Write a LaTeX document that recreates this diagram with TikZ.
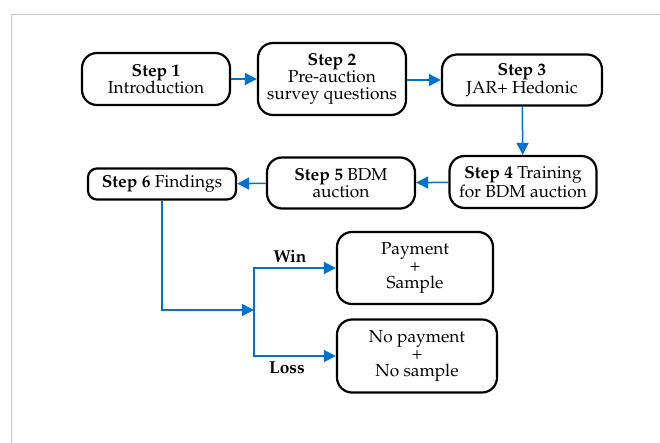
\documentclass[tikz,border=0pt]{standalone}
\usepackage[T1]{fontenc}
\usepackage{mathpazo}
\usetikzlibrary{arrows.meta, positioning}
\definecolor{flowblue}{RGB}{0,114,206}
\definecolor{framegray}{RGB}{200,200,200}

\begin{document}
\begin{tikzpicture}[x=1pt, y=-1pt,
  box/.style={draw, line width=2.2pt, rounded corners=15pt, align=center,
    inner sep=0pt, font=\fontsize{17.3}{17.3}\selectfont},
  flow/.style={draw=flowblue, line width=1.5pt, -{Triangle[length=12pt,width=12pt]}},
  branch/.style={font=\fontsize{17.3}{17.3}\selectfont\bfseries}]
\useasboundingbox (0,0) rectangle (660,443);
\draw[framegray, line width=1pt] (11,443) -- (11,15) -- (660,15);

\node[box, minimum width=148pt, minimum height=52pt] (s1) at (156,79)  {\textbf{Step 1}\\Introduction};
\node[box, minimum width=148pt, minimum height=72pt] (s2) at (332,79)  {\textbf{Step 2}\\Pre-auction\\survey questions};
\node[box, minimum width=160pt, minimum height=51pt] (s3) at (522,80)  {\textbf{Step 3}\\JAR+ Hedonic};
\node[box, minimum width=147pt, minimum height=52pt] (s4) at (523,182) {\textbf{Step 4} Training\\for BDM auction};
\node[box, minimum width=148pt, minimum height=51pt] (s5) at (341,183) {\textbf{Step 5} BDM\\auction};
\node[box, minimum width=148pt, minimum height=31pt, rounded corners=9pt] (s6) at (162,184) {\textbf{Step 6} Findings};
\node[box, minimum width=156pt, minimum height=72pt] (pay)   at (415,268) {Payment\\+\\Sample};
\node[box, minimum width=160pt, minimum height=73pt] (nopay) at (417,356) {No payment\\+\\No sample};

\coordinate (j) at (254,310);

\draw[flow] (s1) -- (s2);
\draw[flow] (s2.east|-s3) -- (s3);
\draw[flow] (s3) -- (s4);
\draw[flow] (s4) -- (s5);
\draw[flow] (s5) -- (s6);
\draw[flow] (s6) |- (j);
\draw[flow] (j) |- (pay);
\draw[flow] (j) |- (nopay);

\node[branch] (win)  at (290,257) {Win};
\node[branch] (loss) at (287,368) {Loss};
\end{tikzpicture}
\end{document}
